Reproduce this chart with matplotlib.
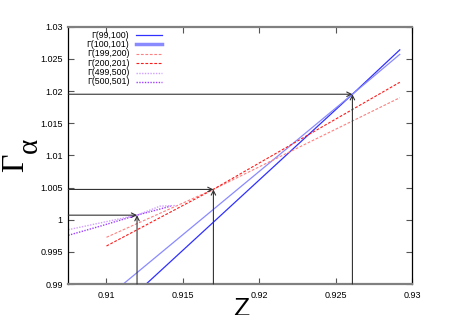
import numpy as np
import matplotlib.pyplot as plt

# Curves (Z, Gamma)
z_99_100 = [0.9126, 0.9261, 0.9292]
g_99_100 = [0.9900, 1.0195, 1.0264]
z_100_101 = [0.9111, 0.9261, 0.9292]
g_100_101 = [0.9900, 1.0195, 1.0257]
z_199_200 = [0.9100, 0.9170, 0.9292]
g_199_200 = [0.99726, 1.00472, 1.01896]
z_200_201 = [0.9100, 0.9170, 0.9292]
g_200_201 = [0.99591, 1.00472, 1.02136]
z_499_500 = [0.9075, 0.9096, 0.9120, 0.9135, 0.9145]
g_499_500 = [0.99844, 0.9995, 1.0007, 1.0021, 1.0022]
z_500_501 = [0.9075, 0.9096, 0.9120, 0.9142]
g_500_501 = [0.99757, 0.9990, 1.0007, 1.0021]

labels = ['Γ(99,100)', 'Γ(100,101)', 'Γ(199,200)',
          'Γ(200,201)', 'Γ(499,500)', 'Γ(500,501)']

# Crossing points marked with arrows
cross_z = [0.9120, 0.9170, 0.9261]
cross_g = [1.0007, 1.0047, 1.0195]

xticks = [0.91, 0.915, 0.92, 0.925, 0.93]
xticklabels = ['0.91', '0.915', '0.92', '0.925', '0.93']
yticks = [0.99, 0.995, 1.0, 1.005, 1.01, 1.015, 1.02, 1.025, 1.03]
yticklabels = ['0.99', '0.995', '1', '1.005', '1.01', '1.015', '1.02', '1.025', '1.03']

plt.rcParams['font.family'] = ['Liberation Sans', 'DejaVu Sans']
fig = plt.figure(figsize=(4.5, 3.15), dpi=100)
ax = fig.add_axes([68.3 / 450, 1 - 284 / 315, 343.7 / 450, 257.3 / 315])

styles = [
    dict(color='#3030ff', lw=0.9, ls='-'),
    dict(color='#8a8aff', lw=0.9, ls='-'),
    dict(color='#ff8080', lw=0.8, ls=(0, (2.5, 1.5))),
    dict(color='#ff1a1a', lw=0.8, ls=(0, (2.5, 1.5))),
    dict(color='#d0a0ff', lw=1.0, ls=(0, (1, 1))),
    dict(color='#a040ff', lw=1.0, ls=(0, (1, 1))),
]
series = [(z_99_100, g_99_100), (z_100_101, g_100_101),
          (z_199_200, g_199_200), (z_200_201, g_200_201),
          (z_499_500, g_499_500), (z_500_501, g_500_501)]
for (zz, gg), st in zip(series, styles):
    ax.plot(zz, gg, **st)

ax.set_xlim(0.9075, 0.93)
ax.set_ylim(0.99, 1.03)

# Arrows from the axes to each crossing
for zc, gc in zip(cross_z, cross_g):
    ap = dict(arrowstyle='->', color='#333333', lw=0.8, mutation_scale=8,
              shrinkA=0, shrinkB=0)
    ax.annotate('', xy=(zc, gc), xytext=(0.9075, gc), arrowprops=ap)
    ax.annotate('', xy=(zc, gc), xytext=(zc, 0.99), arrowprops=ap)

# Hand-made gnuplot style legend (text right aligned, sample after)
for i, (lab, st) in enumerate(zip(labels, styles)):
    yy = 0.9677 - i * 0.0365
    ax.text(0.1775, yy, lab, transform=ax.transAxes, ha='right', va='center',
            fontsize=6.3)
    lw = 2.5 if i == 1 else st['lw']
    ax.plot([0.197, 0.2735], [yy, yy], transform=ax.transAxes,
            color=st['color'], ls=st['ls'], lw=lw)

ax.set_xticks(xticks)
ax.set_xticklabels(xticklabels)
ax.set_yticks(yticks)
ax.set_yticklabels(yticklabels)
ax.tick_params(direction='in', length=4, width=0.8, labelsize=6.5,
               top=True, right=True, colors='#555555', labelcolor='black')
ax.tick_params(axis='x', pad=5)
ax.tick_params(axis='y', pad=4)

for side in ['top', 'bottom']:
    ax.spines[side].set_color('#808080')
    ax.spines[side].set_linewidth(1.6)
for side in ['left', 'right']:
    ax.spines[side].set_color('black')
    ax.spines[side].set_linewidth(0.9)

# Axis titles
fig.text(15.5 / 450, 1 - 162.5 / 315, 'Γ', family='Liberation Serif',
         fontsize=23, rotation=90, ha='center', va='center')
fig.text(30 / 450, 1 - 145 / 315, 'α', family='Liberation Serif',
         fontsize=21, rotation=90, ha='center', va='center')
fig.text(241.5 / 450, 1 - 297 / 315, 'Z', fontsize=19, ha='center', va='top')

plt.savefig('out.png', dpi=100, facecolor='white')
